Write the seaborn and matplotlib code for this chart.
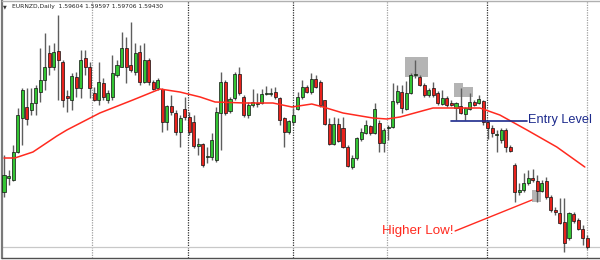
import matplotlib
matplotlib.use("Agg")
import matplotlib.pyplot as plt
import seaborn as sns
import numpy as np

# ---- data (units = arbitrary price levels) ----
opens = [68, 82, 80, 108, 142, 153, 150, 157, 168, 180,
         207, 193, 209, 198, 164, 160, 183, 172, 202, 193,
         167, 160, 177, 160, 163, 185, 193, 212, 195, 188,
         208, 178, 200, 178, 172, 171, 138, 154, 147, 128,
         151, 143, 138, 114, 116, 103, 103, 100, 147, 178,
         149, 162, 186, 163, 145, 155, 156, 157, 166, 166,
         168, 162, 142, 128, 138, 151, 163, 173, 168, 181,
         178, 160, 136, 116, 136, 132, 113, 93, 102, 121,
         127, 134, 127, 137, 117, 132, 133, 158, 168, 151,
         167, 185, 183, 175, 165, 172, 167, 156, 162, 157,
         152, 154, 146, 151, 158, 157, 159, 138, 132, 125,
         120, 130, 113, 95, 68, 70, 77, 82, 79, 69,
         79, 63, 50, 47, 38, 22, 46, 40, 31, 22]
highs = [105, 90, 115, 152, 172, 172, 172, 175, 212, 227,
         215, 217, 245, 200, 170, 187, 188, 210, 210, 198,
         173, 198, 182, 170, 205, 200, 228, 223, 238, 217,
         215, 217, 202, 180, 182, 172, 155, 165, 150, 145,
         163, 148, 145, 122, 117, 113, 127, 153, 188, 180,
         163, 188, 193, 165, 158, 171, 167, 171, 174, 172,
         173, 163, 143, 140, 152, 168, 180, 175, 187, 185,
         180, 160, 142, 143, 142, 143, 115, 105, 123, 132,
         140, 135, 157, 140, 132, 135, 177, 175, 175, 179,
         187, 200, 185, 177, 172, 178, 169, 170, 164, 160,
         158, 172, 153, 167, 160, 165, 160, 139, 135, 130,
         132, 132, 115, 97, 77, 87, 90, 91, 85, 80,
         83, 65, 53, 62, 62, 48, 48, 42, 35, 25]
lows = [63, 75, 79, 107, 115, 135, 145, 145, 158, 170,
        185, 190, 160, 153, 148, 150, 163, 162, 185, 162,
        159, 155, 160, 157, 160, 183, 193, 177, 188, 185,
        175, 177, 175, 170, 170, 128, 130, 145, 125, 113,
        140, 125, 112, 105, 93, 97, 100, 98, 110, 145,
        147, 160, 165, 143, 142, 153, 153, 156, 165, 164,
        161, 135, 113, 126, 135, 150, 161, 167, 166, 172,
        153, 135, 115, 115, 118, 112, 93, 91, 100, 119,
        126, 125, 126, 108, 108, 120, 132, 156, 147, 150,
        166, 182, 174, 163, 163, 163, 155, 155, 153, 154,
        140, 146, 140, 150, 154, 156, 135, 121, 123, 108,
        117, 108, 108, 58, 65, 68, 75, 78, 58, 68,
        61, 48, 45, 36, 8, 20, 37, 30, 15, 11]
closes = [85, 84, 108, 145, 170, 141, 157, 172, 180, 193,
          193, 208, 200, 160, 162, 184, 172, 200, 193, 172,
          160, 178, 163, 167, 187, 195, 212, 193, 190, 207,
          178, 200, 178, 171, 180, 138, 154, 148, 128, 142,
          143, 128, 114, 116, 95, 104, 120, 148, 178, 147,
          161, 186, 167, 145, 155, 158, 157, 166, 167, 167,
          163, 140, 128, 139, 145, 163, 173, 168, 181, 173,
          155, 136, 116, 136, 119, 113, 94, 102, 122, 128,
          135, 127, 151, 117, 130, 133, 159, 169, 152, 167,
          185, 186, 175, 165, 170, 165, 157, 162, 155, 155,
          157, 147, 152, 158, 155, 161, 138, 132, 127, 126,
          130, 113, 109, 68, 70, 77, 82, 80, 69, 77,
          63, 50, 48, 37, 17, 47, 39, 31, 22, 13]

# moving average line (knots: candle index, level)
ma_idx = [0, 2.4, 6.4, 11.7, 13.9, 21.2, 28.5, 34.5, 38.9, 43.4,
          46.7, 53.3, 59.5, 63.7, 68.1, 70.6, 75.0, 81.6, 84.7, 87.6,
          94.9, 105.3, 109.7, 115.7, 122.3, 128.5]
ma_val = [102, 102, 108, 124, 130, 147, 160, 171, 168, 163,
          158, 157, 157, 153, 156, 153, 147, 142, 141, 143,
          152, 152, 145, 130, 113, 93]

# period separators (candle index)
sep_dark = [40.7, 63.9, 106.9]
sep_light = [19.5, 84.7, 129.0]

header = "EURNZD,Daily  1.59604 1.59597 1.59706 1.59430"

entry_level = 139
entry_from, entry_to = 98.9, 115.7
higher_low_start = (99.8, 29)
higher_low_end = (116.8, 60)

# highlight boxes: (x0, x1, y0, y1)
boxes = [(88.7, 93.8, 183, 203), (99.6, 101.5, 163, 177),
         (101.5, 103.8, 163, 173), (116.8, 118.8, 58, 70)]

# ---- figure ----
sns.set_style("white")
plt.rcParams["font.family"] = ["DejaVu Sans"]
W, H = 600, 260
fig = plt.figure(figsize=(W / 100, H / 100), dpi=100)
px_per = 4.52
x0_px = 4
left_px, right_px = 2, 600
ax = fig.add_axes([left_px / W, 2 / H, (right_px - left_px) / W, 257 / H])
ax.set_xlim(-(x0_px - left_px) / px_per, (right_px - x0_px) / px_per)
ax.set_ylim(2, 259)

idx = np.arange(len(opens))
o = np.array(opens, float)
c = np.array(closes, float)
green = "#33c433"
red = "#e8221c"

for (bx0, bx1, by0, by1) in boxes:
    ax.add_patch(plt.Rectangle((bx0, by0), bx1 - bx0, by1 - by0,
                               facecolor="#b4b4b4", edgecolor="none", zorder=1))

for s in sep_dark:
    ax.axvline(s, color="#303030", lw=0.9, ls=(0, (1, 1)), zorder=1)
for s in sep_light:
    ax.axvline(s, color="#a0a0a0", lw=0.9, ls=(0, (1, 1)), zorder=1)

ax.axhline(13, color="#c8c8c8", lw=0.9, zorder=1)

ax.vlines(idx, lows, highs, color="#5e5e5e", lw=1.0, zorder=2)
up = c >= o
heights = np.where(np.abs(c - o) < 1, 1.0, c - o)
ax.bar(idx, heights, bottom=o, width=0.68,
       color=np.where(up, green, red), edgecolor="#111111", linewidth=0.5, zorder=3)

sns.lineplot(x=ma_idx, y=ma_val, color="#ff2a1f", lw=1.1, ax=ax, zorder=4,
             estimator=None, sort=True)

# entry level
ax.plot([entry_from, entry_to], [entry_level, entry_level], color="#1c2a8c", lw=1.2, zorder=5)
ax.text(entry_to + 0.2, entry_level + 1, "Entry Level", color="#1c2a8c",
        fontsize=9.2, family=["Liberation Sans"], va="center", ha="left", zorder=6)

# higher low
ax.plot([higher_low_start[0], higher_low_end[0]], [higher_low_start[1], higher_low_end[1]],
        color="#ff2a1f", lw=1.0, zorder=5)
ax.text(higher_low_start[0] - 0.3, higher_low_start[1], "Higher Low!", color="#ff2a1f",
        fontsize=9.6, family=["Liberation Sans"], va="center", ha="right", zorder=6)

# header
fig.text(12 / W, 1 - 6.5 / H, header, fontsize=4.3, color="#222222", va="center", ha="left")
fig.text(5 / W, 1 - 6.5 / H, "\u25BC", fontsize=3.5, color="#333333", va="center", ha="center")

ax.set_xticks([])
ax.set_yticks([])
ax.set_xlabel("")
ax.set_ylabel("")
for side in ["left", "bottom", "top", "right"]:
    ax.spines[side].set_visible(True)
ax.spines["left"].set_color("#7a7a7a")
ax.spines["left"].set_linewidth(1.6)
ax.spines["bottom"].set_color("#505050")
ax.spines["bottom"].set_linewidth(1.0)
ax.spines["top"].set_color("#b0b0b0")
ax.spines["top"].set_linewidth(1.0)
ax.spines["right"].set_visible(False)
if ax.get_legend() is not None:
    ax.get_legend().remove()

fig.savefig("out.png", dpi=100)
